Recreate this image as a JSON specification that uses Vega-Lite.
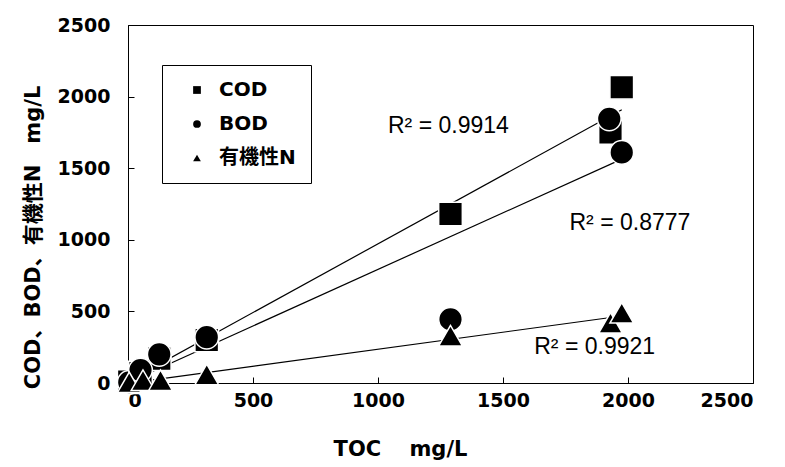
{
  "$schema": "https://vega.github.io/schema/vega-lite/v6.json",
  "autosize": "none",
  "width": 625,
  "height": 358,
  "padding": {"left": 128, "top": 25, "right": 32, "bottom": 84},
  "background": "white",
  "config": {
    "view": {"stroke": "black", "strokeWidth": 1},
    "axis": {
      "grid": false,
      "domainColor": "black",
      "tickColor": "black",
      "tickSize": -6,
      "format": "d",
      "labelColor": "black",
      "labelFont": "DejaVu Sans",
      "labelFontWeight": "bold",
      "labelFontSize": 19,
      "titleColor": "black",
      "titleFont": "DejaVu Sans, Noto Sans CJK JP",
      "titleFontWeight": "bold",
      "titleFontSize": 21
    },
    "legend": {
      "labelFont": "DejaVu Sans, Noto Sans CJK JP",
      "labelFontWeight": "bold",
      "labelFontSize": 20,
      "labelColor": "black"
    }
  },
  "datasets": {
    "pts": [
      {"series": "COD", "toc": 5, "value": 10},
      {"series": "COD", "toc": 50, "value": 70},
      {"series": "COD", "toc": 125, "value": 170},
      {"series": "COD", "toc": 315, "value": 300},
      {"series": "COD", "toc": 1290, "value": 1180},
      {"series": "COD", "toc": 1930, "value": 1750},
      {"series": "COD", "toc": 1975, "value": 2065},
      {"series": "BOD", "toc": 5, "value": 5},
      {"series": "BOD", "toc": 50, "value": 90},
      {"series": "BOD", "toc": 125, "value": 200},
      {"series": "BOD", "toc": 315, "value": 320},
      {"series": "BOD", "toc": 1290, "value": 445},
      {"series": "BOD", "toc": 1925, "value": 1845},
      {"series": "BOD", "toc": 1975, "value": 1610},
      {"series": "有機性N", "toc": 5, "value": 5},
      {"series": "有機性N", "toc": 60, "value": 20},
      {"series": "有機性N", "toc": 130, "value": 20},
      {"series": "有機性N", "toc": 315, "value": 60},
      {"series": "有機性N", "toc": 1290, "value": 330},
      {"series": "有機性N", "toc": 1930, "value": 420},
      {"series": "有機性N", "toc": 1975, "value": 490}
    ],
    "notes": [
      {"toc": 1040, "value": 1795, "label": "R² = 0.9914"},
      {"toc": 1766, "value": 1117, "label": "R² = 0.8777"},
      {"toc": 1625, "value": 251, "label": "R² = 0.9921"}
    ]
  },
  "layer": [
    {
      "data": {"name": "pts"},
      "transform": [
        {"regression": "value", "on": "toc", "groupby": ["series"]}
      ],
      "mark": {"type": "line", "color": "black", "strokeWidth": 1.2, "clip": false},
      "encoding": {
        "x": {
          "field": "toc", "type": "quantitative",
          "scale": {"domain": [0, 2500], "nice": false},
          "axis": {"values": [0, 500, 1000, 1500, 2000, 2500], "title": "TOC\u3000\u00a0mg/L", "labelPadding": 14, "titlePadding": 28, "titleX": 272}
        },
        "y": {
          "field": "value", "type": "quantitative",
          "scale": {"domain": [0, 2500], "nice": false},
          "axis": {"values": [0, 500, 1000, 1500, 2000, 2500], "title": "COD、BOD、有機性N\u3000mg/L", "labelPadding": 24, "titlePadding": 14, "titleY": 212}
        },
        "detail": {"field": "series"}
      }
    },
    {
      "data": {"name": "pts"},
      "mark": {"type": "point", "filled": true, "color": "black", "opacity": 1, "stroke": "white", "strokeWidth": 1.5, "size": 560, "clip": false},
      "encoding": {
        "x": {"field": "toc", "type": "quantitative"},
        "y": {"field": "value", "type": "quantitative"},
        "shape": {
          "field": "series", "type": "nominal",
          "scale": {"domain": ["COD", "BOD", "有機性N"], "range": ["square", "circle", "triangle-up"]},
          "legend": {
            "title": null,
            "orient": "none",
            "legendX": 34,
            "legendY": 40,
            "fillColor": "white",
            "strokeColor": "black",
            "padding": 15,
            "symbolSize": 60,
            "symbolFillColor": "black",
            "symbolStrokeWidth": 0,
            "symbolOffset": 10,
            "labelOffset": 12,
            "rowPadding": 14
          }
        }
      }
    },
    {
      "data": {"name": "notes"},
      "mark": {"type": "text", "align": "left", "baseline": "middle", "font": "Liberation Sans", "fontSize": 23, "color": "black"},
      "encoding": {
        "x": {"field": "toc", "type": "quantitative"},
        "y": {"field": "value", "type": "quantitative"},
        "text": {"field": "label"}
      }
    }
  ]
}
